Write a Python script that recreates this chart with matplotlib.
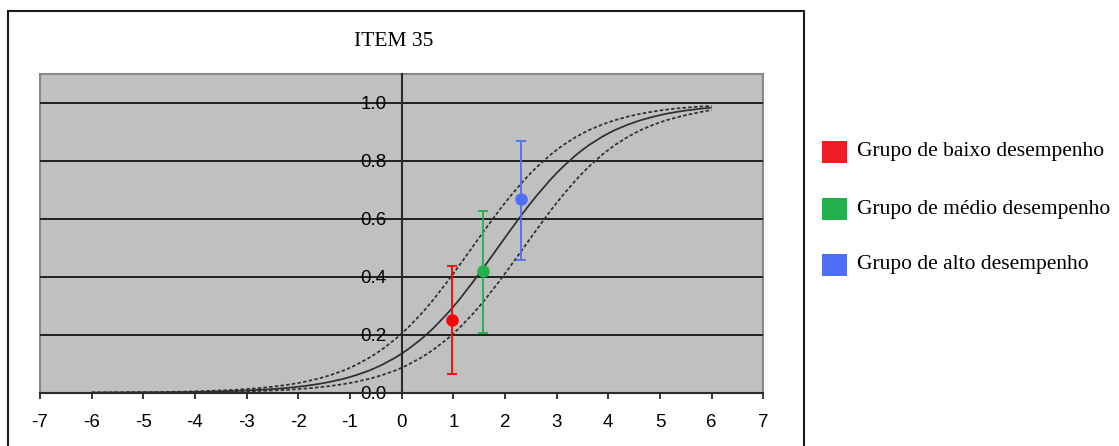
import matplotlib
matplotlib.use("Agg")
import matplotlib.pyplot as plt
from matplotlib.patches import Rectangle, PathPatch
from matplotlib.path import Path

# ---- data ----
theta = [-6.0, -5.5, -5.0, -4.5, -4.0, -3.5, -3.0, -2.5, -2.0, -1.5, -1.0, -0.5,
         0.0, 0.5, 1.0, 1.5, 2.0, 2.5, 3.0, 3.5, 4.0, 4.5, 5.0, 5.5, 6.0]
icc_mid = [0.0004, 0.0006, 0.0011, 0.0017, 0.0028, 0.0047, 0.0077, 0.0126, 0.0206,
           0.0336, 0.0542, 0.0863, 0.135, 0.204, 0.297, 0.411, 0.535, 0.655, 0.758,
           0.838, 0.895, 0.933, 0.958, 0.974, 0.984]
icc_upper = [0.0006, 0.0011, 0.0017, 0.0028, 0.0047, 0.0077, 0.0126, 0.0206, 0.0336,
             0.0542, 0.0863, 0.135, 0.204, 0.297, 0.411, 0.535, 0.655, 0.758, 0.838,
             0.895, 0.933, 0.958, 0.974, 0.984, 0.990]
icc_lower = [0.0002, 0.0004, 0.0006, 0.0011, 0.0017, 0.0028, 0.0047, 0.0077, 0.0126,
             0.0206, 0.0336, 0.0542, 0.0863, 0.135, 0.204, 0.297, 0.411, 0.535, 0.655,
             0.758, 0.838, 0.895, 0.933, 0.958, 0.976]

groups = ["Grupo de baixo desempenho", "Grupo de médio desempenho", "Grupo de alto desempenho"]
group_x = [0.97, 1.57, 2.31]
group_p = [0.251, 0.419, 0.670]
group_lo = [0.063, 0.205, 0.459]
group_hi = [0.437, 0.627, 0.868]
group_colors = ["#ee1c24", "#22b14c", "#4f6ef5"]
marker_colors = ["#ff0000", "#22b14c", "#4f6ef5"]

x_ticks = [-7, -6, -5, -4, -3, -2, -1, 0, 1, 2, 3, 4, 5, 6, 7]
y_ticks = [0.0, 0.2, 0.4, 0.6, 0.8, 1.0]
title = "ITEM 35"


def smooth_path(xs, ys):
    """Excel-like smoothed line: Catmull-Rom through the points as cubic Beziers."""
    pts = list(zip(xs, ys))
    verts = [pts[0]]
    codes = [Path.MOVETO]
    n = len(pts)
    for i in range(n - 1):
        p0 = pts[i - 1] if i > 0 else pts[i]
        p1 = pts[i]
        p2 = pts[i + 1]
        p3 = pts[i + 2] if i + 2 < n else pts[i + 1]
        c1 = (p1[0] + (p2[0] - p0[0]) / 6, p1[1] + (p2[1] - p0[1]) / 6)
        c2 = (p2[0] - (p3[0] - p1[0]) / 6, p2[1] - (p3[1] - p1[1]) / 6)
        verts += [c1, c2, p2]
        codes += [Path.CURVE4] * 3
    return Path(verts, codes)


# ---- figure ----
W, H = 1119, 446
fig = plt.figure(figsize=(W / 100, H / 100), dpi=100)

# outer chart frame
fig.add_artist(Rectangle((8 / W, -0.05), (804 - 8) / W, 1 - 11 / H + 0.05,
                         transform=fig.transFigure, fill=False, lw=1.5,
                         edgecolor="#1a1a1a", clip_on=False))

ax = fig.add_axes([40 / W, 1 - 392.7 / H, (763.3 - 40) / W, (392.7 - 74) / H])
ax.set_facecolor("#c0c0c0")
ax.patch.set_edgecolor("#888888")
ax.patch.set_linewidth(1.5)
ax.set_xlim(-7, 7)
ax.set_ylim(0, 1.1)

for s in ["top", "right"]:
    ax.spines[s].set_visible(False)
ax.spines["left"].set_position(("data", 0))
ax.spines["left"].set_color("#2a2a2a")
ax.spines["left"].set_linewidth(1.5)
ax.spines["bottom"].set_color("#2a2a2a")
ax.spines["bottom"].set_linewidth(1.5)

for yv in y_ticks[1:]:
    ax.axhline(yv, color="#141414", lw=1.3, zorder=1)

dash = (0, (2, 1.3))
for ys, style in [(icc_upper, dash), (icc_lower, dash), (icc_mid, "solid")]:
    ax.add_patch(PathPatch(smooth_path(theta, ys), facecolor="none",
                           edgecolor="#2e2e2e", lw=1.25, linestyle=style, zorder=2))

for gx, gp, lo, hi, c, mc in zip(group_x, group_p, group_lo, group_hi,
                                 group_colors, marker_colors):
    ax.errorbar([gx], [gp], yerr=[[gp - lo], [hi - gp]], fmt="o", color=mc,
                ecolor=mc, elinewidth=1.3, capsize=3.4, capthick=1.3,
                markersize=8, zorder=4)

ax.set_xticks(x_ticks)
ax.set_xticklabels([str(t) for t in x_ticks], fontsize=13.5, family="Liberation Sans")
ax.tick_params(axis="x", direction="out", length=4.5, width=1.3, color="#2a2a2a", pad=11)
ax.set_yticks(y_ticks)
ax.set_yticklabels([f"{t:.1f}" for t in y_ticks], fontsize=13.5, family="Liberation Sans")
ax.tick_params(axis="y", length=0, pad=11)

fig.text(394 / W, 1 - 42 / H, title, ha="center", va="center", fontsize=15.5,
         family="Liberation Serif")

# legend
row_y = [151.7, 209.5, 265.0]
for lab, c, ry in zip(groups, group_colors, row_y):
    fig.add_artist(Rectangle((822 / W, 1 - (ry + 11) / H), 25 / W, 22 / H,
                             transform=fig.transFigure, facecolor=c, edgecolor="none"))
    fig.text(857 / W, 1 - ry / H, lab, ha="left", va="center", fontsize=15.5,
             family="Liberation Serif")

fig.savefig("out.png", dpi=100)
